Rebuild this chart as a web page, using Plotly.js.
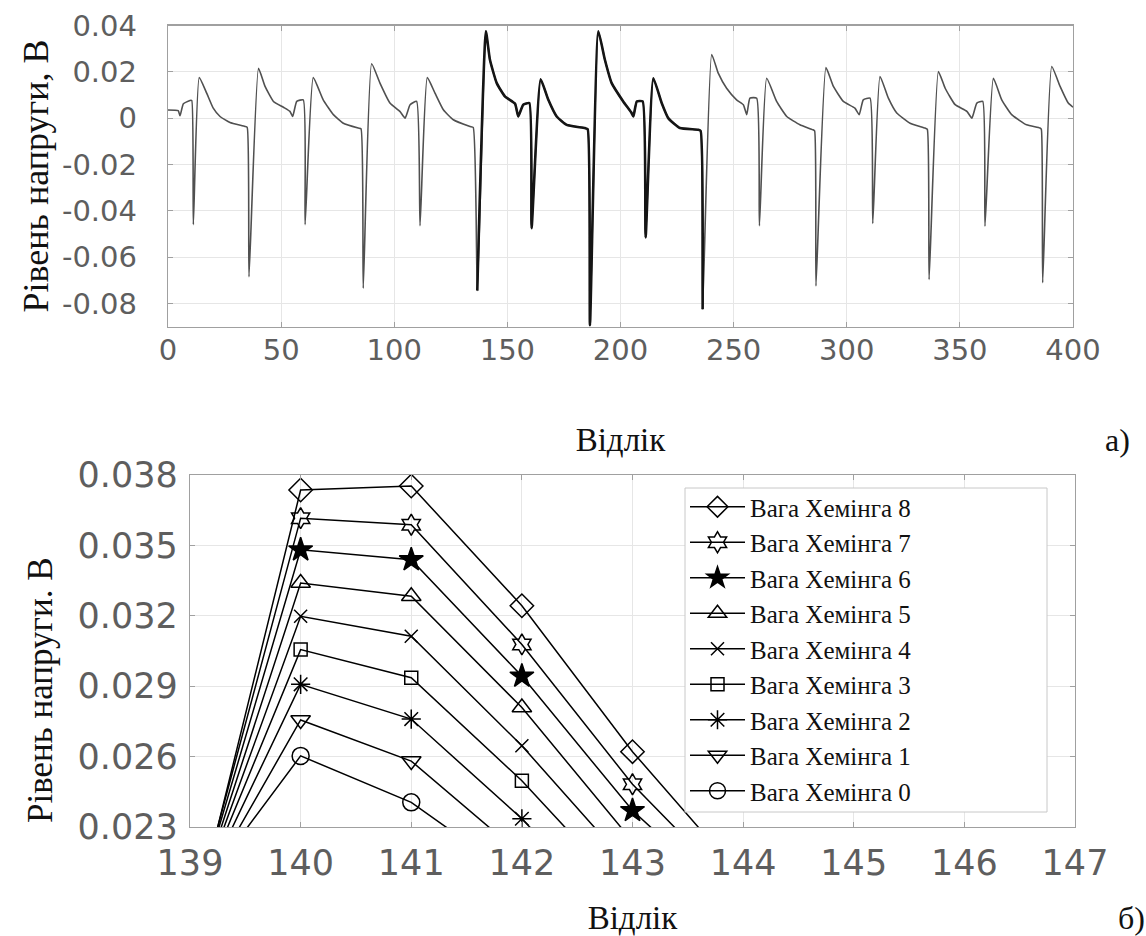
<!DOCTYPE html>
<html>
<head>
<meta charset="utf-8">
<script src="https://cdn.plot.ly/plotly-3.0.1.min.js"></script>
<style>html,body{margin:0;padding:0;background:#fff;}#chart{width:1146px;height:936px;}</style>
</head>
<body>
<div id="chart"></div>
<script>
// ---- Top panel: signal vertices (sample index, voltage) ----
const sigX = [0,4.5,5.3,6.8,9.7,10.5,11.2,13.8,17.1,20.0,23.0,27.4,34.0,35.0,35.8,40.0,42.9,46.6,51.0,53.9,55.1,56.9,59.8,60.6,64.2,68.6,73.1,77.5,84.1,85.3,86.3,90.0,93.7,98.1,102.5,104.8,107.0,109.9,111.4,114.6,118.0,121.7,126.1,133.5,134.9,136.7,140.5,142.3,145.3,148.9,153.4,154.8,157.0,159.7,160.7,164.7,168.1,171.8,176.2,184.3,185.5,186.5,190.2,193.1,196.1,201.2,204.9,205.7,207.2,209.8,211.1,214.5,218.2,221.1,226.3,234.4,235.4,236.3,240.3,243.2,246.9,251.3,254.3,255.8,257.2,260.2,261.4,264.6,269.0,273.5,279.3,285.0,285.8,286.4,290.8,294.1,298.5,303.6,305.5,307.3,310.3,311.5,314.7,318.4,322.1,328.0,334.6,335.6,336.4,340.5,343.5,347.9,353.1,355.3,357.5,360.1,361.1,364.8,368.5,372.9,379.5,385.4,386.0,386.6,390.6,394.3,397.9,400.0];
const sigY = [0.0035,0.0032,0.0010,0.0062,0.0076,0.0076,-0.0460,0.0175,0.0108,0.0043,0.0007,-0.0019,-0.0036,-0.0040,-0.0685,0.0215,0.0137,0.0072,0.0047,0.0029,0.0007,0.0072,0.0079,-0.0460,0.0175,0.0079,0.0015,-0.0022,-0.0043,-0.0046,-0.0735,0.0235,0.0151,0.0065,0.0029,0.0000,0.0058,0.0072,-0.0465,0.0175,0.0108,0.0036,-0.0007,-0.0036,-0.0040,-0.0745,0.0375,0.0252,0.0151,0.0094,0.0062,0.0007,0.0058,0.0065,-0.0475,0.0168,0.0079,0.0007,-0.0029,-0.0043,-0.0048,-0.0895,0.0375,0.0252,0.0151,0.0072,0.0022,0.0007,0.0072,0.0072,-0.0515,0.0172,0.0065,0.0000,-0.0043,-0.0050,-0.0055,-0.0826,0.0275,0.0194,0.0129,0.0079,0.0058,0.0015,0.0086,0.0086,-0.0465,0.0172,0.0072,0.0007,-0.0029,-0.0050,-0.0055,-0.0725,0.0218,0.0137,0.0072,0.0043,0.0015,0.0079,0.0086,-0.0455,0.0180,0.0086,0.0022,-0.0022,-0.0043,-0.0048,-0.0697,0.0201,0.0129,0.0058,0.0029,0.0000,0.0065,0.0072,-0.0467,0.0172,0.0079,0.0015,-0.0029,-0.0043,-0.0048,-0.0711,0.0223,0.0137,0.0065,0.0047];
// samples where the several embedded variants overlap (drawn bolder)
const boldFrom = 135, boldTo = 237;

const topXTickVals = [0,50,100,150,200,250,300,350,400];
const topXTickText = ['0','50','100','150','200','250','300','350','400'];
const topYTickVals = [-0.08,-0.06,-0.04,-0.02,0,0.02,0.04];
const topYTickText = ['-0.08','-0.06','-0.04','-0.02','0','0.02','0.04'];

// ---- Bottom panel: zoom on samples 139..144 for each Hamming weight ----
const zoomX = [139,140,141,142,143,144];
const hw8 = [0.0182,0.03736,0.03753,0.03243,0.02621,0.0208];
const hw7 = [0.0186,0.03616,0.03588,0.03078,0.02482,0.0200];
const hw6 = [0.0188,0.03481,0.03439,0.02943,0.02370,0.0194];
const hw5 = [0.0189,0.03340,0.03283,0.02809,0.02239,0.0170];
const hw4 = [0.0190,0.03198,0.03113,0.02646,0.02116,0.0160];
const hw3 = [0.0191,0.03056,0.02936,0.02497,0.01989,0.0150];
const hw2 = [0.0192,0.02908,0.02760,0.02335,0.0184,0.0135];
const hw1 = [0.0193,0.02756,0.02581,0.02180,0.0175,0.0130];
const hw0 = [0.0197,0.02603,0.02405,0.02070,0.0165,0.0120];
const seriesNames = ['Вага Хемінга 8','Вага Хемінга 7','Вага Хемінга 6','Вага Хемінга 5','Вага Хемінга 4','Вага Хемінга 3','Вага Хемінга 2','Вага Хемінга 1','Вага Хемінга 0'];
const seriesVals = [hw8,hw7,hw6,hw5,hw4,hw3,hw2,hw1,hw0];
const seriesSymbols = ['diamond-open','hexagram-open','star','triangle-up-open','x-thin-open','square-open','asterisk-open','triangle-down-open','circle-open'];
const seriesSizes = [18,16,18,17,13,13,16,17,17];

const botXTickVals = [139,140,141,142,143,144,145,146,147];
const botXTickText = ['139','140','141','142','143','144','145','146','147'];
const botYTickVals = [0.023,0.026,0.029,0.032,0.035,0.038];
const botYTickText = ['0.023','0.026','0.029','0.032','0.035','0.038'];

// ---- build traces ----
const W = 1146, H = 936;
const traces = [];
traces.push({x: sigX, y: sigY, xaxis:'x', yaxis:'y', type:'scatter', mode:'lines',
  line:{color:'#505050', width:1.6, shape:'spline', smoothing:0.45}, showlegend:false, hoverinfo:'skip'});
const bx = [], by = [];
sigX.forEach((s,i)=>{ if(s>=boldFrom && s<=boldTo){ bx.push(s); by.push(sigY[i]); } });
traces.push({x: bx, y: by, xaxis:'x', yaxis:'y', type:'scatter', mode:'lines',
  line:{color:'#151515', width:2.6, shape:'spline', smoothing:0.45}, showlegend:false, hoverinfo:'skip'});

seriesVals.forEach((vals,i)=>{
  traces.push({x: zoomX, y: vals, xaxis:'x2', yaxis:'y2', type:'scatter', mode:'lines+markers',
    name: seriesNames[i], cliponaxis:true,
    line:{color:'#000', width:1.5},
    marker:{symbol: seriesSymbols[i], size: seriesSizes[i], color:'#000', line:{color:'#000', width:1.5}}});
});

const serif = 'Liberation Serif, Times New Roman, serif';
const tickFontTop = {family:'DejaVu Sans, Arial, sans-serif', size:29, color:'#5e5e5e'};
const tickFontBot = {family:'DejaVu Sans, Arial, sans-serif', size:35, color:'#5e5e5e'};
const titleFont = {family: serif, size:33, color:'#111'};
const axisCommon = {showline:true, linecolor:'#a0a0a0', linewidth:1.2, mirror:'ticks',
  ticks:'inside', ticklen:5, tickcolor:'#a0a0a0', showgrid:true, gridcolor:'#e6e6e6', gridwidth:1,
  zeroline:false, automargin:false, fixedrange:true};

const layout = {
  width: W, height: H, margin:{l:0,r:0,t:0,b:0},
  paper_bgcolor:'#fff', plot_bgcolor:'#fff', showlegend:true,
  xaxis: Object.assign({}, axisCommon, {domain:[168/W, 1073/W], range:[0,400], anchor:'y',
    tickmode:'array', tickvals: topXTickVals, ticktext: topXTickText, tickfont: tickFontTop,
    ticklabelstandoff: -3,
    title:{text:'Відлік', font: titleFont, standoff: 62}}),
  yaxis: Object.assign({}, axisCommon, {domain:[1-326.5/H, 1-25.5/H], range:[-0.09,0.04], anchor:'x',
    tickmode:'array', tickvals: topYTickVals, ticktext: topYTickText, tickfont: tickFontTop,
    ticklabelstandoff: 24,
    title:{text:'Рівень напруги, В', font:{family: serif, size:36, color:'#111'}, standoff: 2}}),
  xaxis2: Object.assign({}, axisCommon, {domain:[190/W, 1075/W], range:[139,147], anchor:'y2',
    tickmode:'array', tickvals: botXTickVals, ticktext: botXTickText, tickfont: tickFontBot,
    ticklabelstandoff: 5,
    title:{text:'Відлік', font: titleFont, standoff: 25}}),
  yaxis2: Object.assign({}, axisCommon, {domain:[1-827/H, 1-475/H], range:[0.023,0.038], anchor:'x2',
    tickmode:'array', tickvals: botYTickVals, ticktext: botYTickText, tickfont: tickFontBot,
    ticklabelstandoff: 4}),
  legend:{x: 685/W, y: 1-484/H, xanchor:'left', yanchor:'top', bgcolor:'rgba(0,0,0,0)',
    borderwidth:0, font:{family: serif, size:25, color:'#111'},
    itemsizing:'trace', itemwidth:55, traceorder:'normal'},
  shapes:[
    {type:'rect', xref:'paper', yref:'paper', x0:685/W, x1:1047/W, y0:1-812/H, y1:1-488/H,
     fillcolor:'#fff', line:{color:'#c8c8c8', width:1}, layer:'above'}
  ],
  annotations:[
    {text:'Рівень напруги. В', xref:'paper', yref:'paper', x:40/W, y:1-690/H, xanchor:'center', yanchor:'middle',
     textangle:-90, showarrow:false, font:{family: serif, size:35, color:'#111'}},
    {text:'а)', xref:'paper', yref:'paper', x:1103/W, y:1-440/H, xanchor:'left', yanchor:'middle', showarrow:false,
     font:{family: serif, size:32, color:'#111'}},
    {text:'б)', xref:'paper', yref:'paper', x:1116/W, y:1-918/H, xanchor:'left', yanchor:'middle', showarrow:false,
     font:{family: serif, size:32, color:'#111'}}
  ]
};

Plotly.newPlot('chart', traces, layout, {staticPlot:true, displayModeBar:false});
</script>
</body>
</html>
